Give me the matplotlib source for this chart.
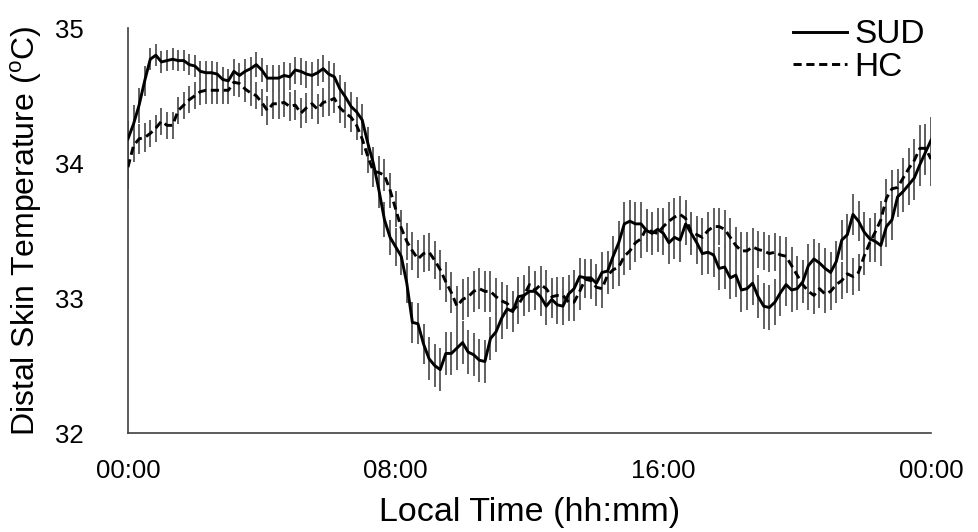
import numpy as np
import matplotlib
matplotlib.use("Agg")
import matplotlib.pyplot as plt

plt.rcParams['font.family'] = ['Liberation Sans', 'DejaVu Sans']
plt.rcParams['mathtext.fontset'] = 'custom'
plt.rcParams['mathtext.rm'] = 'Liberation Sans'

# time in hours, 10-minute samples over 24 h
time_h = np.arange(145) * 10 / 60.0

sud = [34.18, 34.29, 34.43, 34.61, 34.77, 34.80, 34.75, 34.76, 34.77, 34.76,
       34.76, 34.73, 34.72, 34.68, 34.67, 34.67, 34.66, 34.62, 34.61, 34.68,
       34.65, 34.68, 34.70, 34.73, 34.69, 34.63, 34.63, 34.63, 34.65, 34.64,
       34.69, 34.68, 34.66, 34.65, 34.67, 34.70, 34.66, 34.64, 34.55, 34.49,
       34.42, 34.38, 34.32, 34.15, 34.00, 33.80, 33.58, 33.45, 33.38, 33.31,
       33.11, 32.82, 32.81, 32.66, 32.55, 32.50, 32.47, 32.59, 32.59, 32.63,
       32.67, 32.60, 32.58, 32.54, 32.53, 32.70, 32.75, 32.85, 32.92, 32.90,
       33.01, 33.02, 33.05, 33.05, 33.01, 32.94, 32.99, 32.95, 32.94, 33.03,
       33.07, 33.16, 33.15, 33.15, 33.11, 33.19, 33.20, 33.31, 33.41, 33.55,
       33.57, 33.55, 33.55, 33.50, 33.48, 33.51, 33.48, 33.41, 33.45, 33.43,
       33.55, 33.48, 33.41, 33.33, 33.34, 33.32, 33.22, 33.23, 33.15, 33.17,
       33.06, 33.07, 33.11, 33.01, 32.94, 32.93, 32.97, 33.04, 33.10, 33.06,
       33.07, 33.12, 33.24, 33.29, 33.26, 33.22, 33.19, 33.27, 33.43, 33.47,
       33.62, 33.57, 33.49, 33.44, 33.42, 33.39, 33.53, 33.58, 33.75, 33.79,
       33.84, 33.89, 33.99, 34.08, 34.17]

hc = [33.97, 34.13, 34.18, 34.19, 34.22, 34.26, 34.31, 34.28, 34.28, 34.39,
      34.43, 34.47, 34.50, 34.53, 34.54, 34.54, 34.54, 34.54, 34.54, 34.60,
      34.59, 34.55, 34.52, 34.50, 34.45, 34.39, 34.44, 34.44, 34.45, 34.42,
      34.43, 34.37, 34.41, 34.44, 34.40, 34.45, 34.46, 34.48, 34.41, 34.37,
      34.34, 34.28, 34.18, 34.05, 33.94, 33.93, 33.91, 33.80, 33.66, 33.52,
      33.42, 33.35, 33.29, 33.33, 33.34, 33.28, 33.21, 33.12, 33.04, 32.94,
      32.99, 33.01, 33.05, 33.07, 33.05, 33.05, 33.01, 32.98, 32.96, 32.91,
      32.95, 33.02, 33.10, 33.06, 33.10, 33.07, 33.01, 33.02, 33.02, 32.97,
      32.97, 33.05, 33.14, 33.13, 33.08, 33.07, 33.17, 33.21, 33.23, 33.31,
      33.35, 33.41, 33.44, 33.52, 33.49, 33.48, 33.53, 33.57, 33.60, 33.62,
      33.59, 33.49, 33.47, 33.45, 33.50, 33.53, 33.53, 33.51, 33.45, 33.39,
      33.35, 33.35, 33.38, 33.36, 33.35, 33.33, 33.34, 33.32, 33.31, 33.24,
      33.17, 33.10, 33.05, 33.02, 33.07, 33.03, 33.05, 33.10, 33.13, 33.18,
      33.16, 33.19, 33.31, 33.41, 33.49, 33.58, 33.74, 33.81, 33.82, 33.89,
      33.96, 34.02, 34.11, 34.11, 34.03]

sud_sem = [0.13, 0.14, 0.13, 0.11, 0.08, 0.08, 0.08, 0.08, 0.08, 0.08,
           0.08, 0.08, 0.08, 0.08, 0.09, 0.09, 0.09, 0.09, 0.09, 0.09,
           0.09, 0.09, 0.09, 0.09, 0.09, 0.10, 0.10, 0.10, 0.10, 0.10,
           0.10, 0.10, 0.10, 0.10, 0.10, 0.10, 0.10, 0.10, 0.10, 0.11,
           0.11, 0.11, 0.12, 0.12, 0.12, 0.13, 0.13, 0.13, 0.14, 0.14,
           0.15, 0.15, 0.15, 0.15, 0.16, 0.16, 0.16, 0.16, 0.16, 0.16,
           0.16, 0.16, 0.16, 0.16, 0.16, 0.16, 0.15, 0.15, 0.15, 0.15,
           0.15, 0.15, 0.15, 0.14, 0.14, 0.14, 0.14, 0.14, 0.14, 0.14,
           0.14, 0.14, 0.14, 0.14, 0.14, 0.15, 0.15, 0.15, 0.16, 0.16,
           0.16, 0.16, 0.16, 0.16, 0.16, 0.16, 0.16, 0.16, 0.16, 0.16,
           0.16, 0.16, 0.16, 0.16, 0.16, 0.16, 0.16, 0.16, 0.16, 0.16,
           0.16, 0.16, 0.16, 0.16, 0.17, 0.17, 0.17, 0.17, 0.16, 0.16,
           0.16, 0.16, 0.16, 0.15, 0.15, 0.15, 0.15, 0.15, 0.15, 0.15,
           0.15, 0.15, 0.15, 0.15, 0.15, 0.15, 0.15, 0.15, 0.15, 0.15,
           0.15, 0.16, 0.16, 0.17, 0.17]

hc_sem = [0.16, 0.12, 0.11, 0.11, 0.10, 0.10, 0.10, 0.10, 0.10, 0.10,
          0.10, 0.10, 0.10, 0.10, 0.10, 0.10, 0.10, 0.10, 0.10, 0.10,
          0.10, 0.10, 0.10, 0.10, 0.10, 0.11, 0.11, 0.11, 0.11, 0.11,
          0.11, 0.11, 0.11, 0.11, 0.11, 0.11, 0.11, 0.11, 0.11, 0.11,
          0.11, 0.11, 0.12, 0.12, 0.12, 0.12, 0.12, 0.13, 0.13, 0.13,
          0.14, 0.14, 0.14, 0.14, 0.14, 0.14, 0.15, 0.15, 0.15, 0.15,
          0.15, 0.15, 0.15, 0.15, 0.15, 0.15, 0.14, 0.14, 0.14, 0.14,
          0.14, 0.14, 0.14, 0.14, 0.14, 0.14, 0.14, 0.14, 0.14, 0.14,
          0.14, 0.14, 0.14, 0.14, 0.14, 0.14, 0.14, 0.14, 0.14, 0.14,
          0.14, 0.14, 0.14, 0.14, 0.14, 0.14, 0.14, 0.14, 0.14, 0.14,
          0.14, 0.14, 0.14, 0.14, 0.14, 0.14, 0.14, 0.14, 0.14, 0.14,
          0.14, 0.14, 0.14, 0.14, 0.14, 0.14, 0.14, 0.14, 0.14, 0.14,
          0.14, 0.14, 0.14, 0.14, 0.14, 0.14, 0.14, 0.14, 0.14, 0.14,
          0.14, 0.14, 0.14, 0.14, 0.14, 0.14, 0.14, 0.14, 0.14, 0.15,
          0.15, 0.16, 0.17, 0.18, 0.20]

xtick_pos = [0, 8, 16, 24]
xtick_labels = ["00:00", "08:00", "16:00", "00:00"]
ytick_pos = [32, 33, 34, 35]

fig = plt.figure(figsize=(9.79, 5.32), dpi=100)
ax = fig.add_axes([0.1307, 0.186, 0.8203, 0.761])

bar_color = '#606060'
ax.errorbar(time_h, sud, yerr=sud_sem, fmt='none', ecolor=bar_color,
            elinewidth=1.4, capsize=0, zorder=1)
ax.errorbar(time_h, hc, yerr=hc_sem, fmt='none', ecolor=bar_color,
            elinewidth=1.4, capsize=0, zorder=1)

ax.plot(time_h, sud, color='black', lw=2.1, solid_joinstyle='round', label='SUD', zorder=3)
ax.plot(time_h, hc, color='black', lw=2.1, linestyle=(0, (2.8, 1.6)), label='HC', zorder=3)

ax.set_xlim(0, 24)
ax.set_ylim(32, 35)
ax.set_xticks(xtick_pos)
ax.set_xticklabels(xtick_labels)
ax.set_yticks(ytick_pos)
ax.tick_params(axis='both', length=0, labelsize=18.5)
ax.tick_params(axis='x', pad=19)
ax.tick_params(axis='y', pad=32)

for s in ['top', 'right']:
    ax.spines[s].set_visible(False)
for s in ['left', 'bottom']:
    ax.spines[s].set_color('#404040')
    ax.spines[s].set_linewidth(1.2)

ax.set_xlabel('Local Time (hh:mm)', fontsize=24.5, labelpad=10)
ax.set_ylabel(r'Distal Skin Temperature (${}^{\mathrm{o}}$C)', fontsize=23, labelpad=8)

leg = ax.legend(loc='upper right', bbox_to_anchor=(0.9925, 1.022), frameon=False, fontsize=24,
                handlelength=1.62, handletextpad=0.24, labelspacing=0.05, borderpad=0.0,
                borderaxespad=0.0)

fig.savefig('out.png', dpi=100)
